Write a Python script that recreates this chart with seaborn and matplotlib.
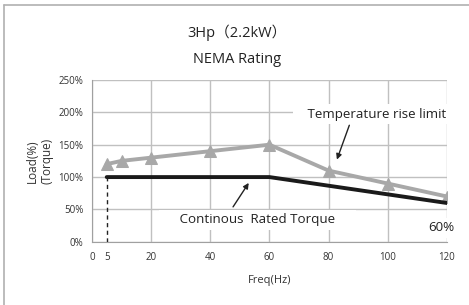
import matplotlib
matplotlib.use("Agg")
import matplotlib.pyplot as plt
import seaborn as sns
import pandas as pd
from matplotlib.lines import Line2D

# === data ===
temp_freq = [5, 10, 20, 40, 60, 80, 100, 120]
temp_load = [120, 125, 130, 140, 150, 110, 90, 70]
rated_freq = [5, 60, 120]
rated_torque = [100, 100, 60]
x_ticks = [0, 20, 40, 60, 80, 100, 120]
y_ticks = [0, 50, 100, 150, 200, 250]
y_labels = ["0%", "50%", "100%", "150%", "200%", "250%"]

sns.set_style("white")
plt.rcParams["font.family"] = ["Open Sans", "Noto Sans CJK JP", "DejaVu Sans"]

df_temp = pd.DataFrame({"freq": temp_freq, "load": temp_load})
df_rated = pd.DataFrame({"freq": rated_freq, "load": rated_torque})

fig = plt.figure(figsize=(4.69, 3.05), dpi=100)
ax = fig.add_axes([0.196, 0.207, 0.757, 0.531])

grid_c = "#c0c0c0"
ax.set_xlim(0, 120)
ax.set_ylim(0, 250)
ax.set_xticks(x_ticks)
ax.set_xticks([rated_freq[0]], labels=[str(rated_freq[0])], minor=True)
ax.set_yticks(y_ticks, labels=y_labels)
ax.grid(True, which="major", color=grid_c, lw=1)
ax.set_axisbelow(True)
for s in ["top", "right"]:
    ax.spines[s].set_visible(False)
ax.spines["left"].set_color("#a0a0a0")
ax.spines["bottom"].set_color("#a0a0a0")
ax.tick_params(axis="x", which="both", length=4, color="#a0a0a0", labelsize=7,
               labelcolor="#333333", pad=3)
ax.tick_params(axis="y", length=0, labelsize=7, labelcolor="#333333", pad=6)

# dashed drop line at the lowest frequency
ax.vlines(rated_freq[0], 0, rated_torque[0], colors="#222222", lw=1, ls=(0, (3, 2.5)), zorder=3)

sns.lineplot(data=df_temp, x="freq", y="load", color="#a8a8a8", lw=2.8, marker="^",
             markersize=8, markeredgecolor="#a8a8a8", ax=ax, zorder=4)
sns.lineplot(data=df_rated, x="freq", y="load", color="#1a1a1a", lw=2.8, ax=ax, zorder=5)

ax.set_xlabel("Freq(Hz)", fontsize=8, color="#333333", labelpad=9)
ax.set_ylabel("Load(%)\n(Torque)", fontsize=8.5, color="#333333", labelpad=4, linespacing=1.1)

box = dict(facecolor="white", edgecolor="none", pad=2.5)
ax.text(94.5, 197, "   Temperature rise limit", ha="center", va="center", fontsize=9.6,
        color="#222222", bbox=box, zorder=6)
ax.text(56, 34, "     Continous  Rated Torque     ", ha="center", va="center", fontsize=9.6,
        color="#222222", bbox=box, zorder=6)
ax.text(118, 22, "60%", ha="center", va="center", fontsize=9.6, color="#222222",
        bbox=dict(facecolor="white", edgecolor="none", pad=2.5), zorder=6, clip_on=False)

arrow = dict(arrowstyle="-|>", color="#222222", lw=1, shrinkA=0, shrinkB=0, mutation_scale=8)
ax.annotate("", xy=(82.8, 127), xytext=(87, 180), arrowprops=arrow, zorder=6)
ax.annotate("", xy=(53, 91), xytext=(47.7, 54), arrowprops=arrow, zorder=6)

fig.text(0.506, 0.892, "3Hp（2.2kW）", ha="center", va="center", fontsize=10.5, color="#222222")
fig.text(0.506, 0.806, "NEMA Rating", ha="center", va="center", fontsize=10.5, color="#222222")

# outer frame (top and left edges visible in the reference)
fig.add_artist(Line2D([0.009, 0.009], [0.0, 0.984], transform=fig.transFigure, color="#b0b0b0", lw=1.2))
fig.add_artist(Line2D([0.009, 1.0], [0.984, 0.984], transform=fig.transFigure, color="#b0b0b0", lw=1.2))

fig.savefig("out.png", dpi=100)
